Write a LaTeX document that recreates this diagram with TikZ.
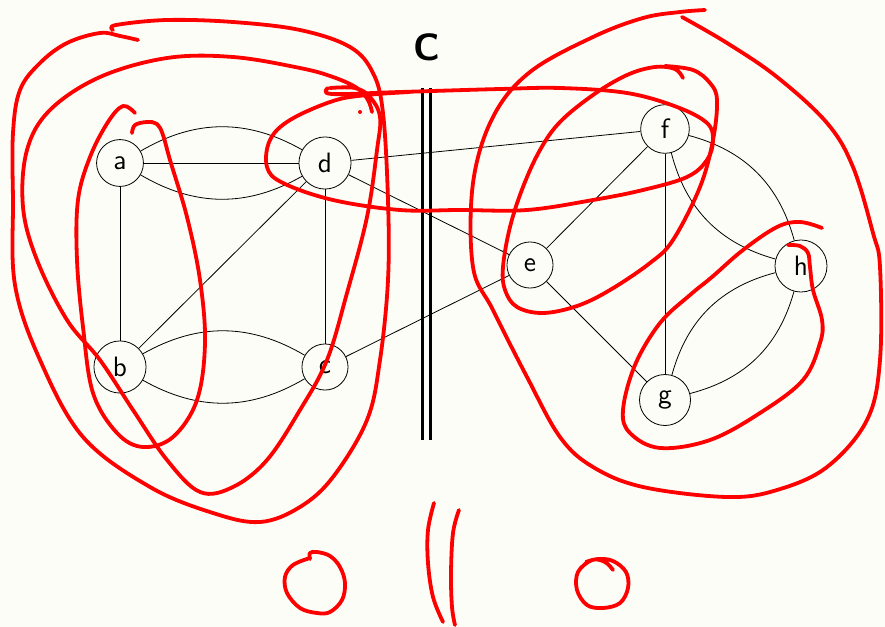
\documentclass[tikz,border=0pt]{standalone}
\definecolor{paper}{RGB}{253,253,247}
\definecolor{pen}{RGB}{255,0,0}
\tikzset{
  vertex/.style={draw, circle, inner sep=5pt, font=\sffamily\fontsize{14}{16}\selectfont},
  ink/.style={draw=pen, line width=1.9pt, line cap=round, line join=round},
}
\begin{document}
\begin{tikzpicture}[x=0.5pt, y=-0.5pt]
    % Canvas
    \fill[paper] (0,0) rectangle (885,627);
    \useasboundingbox (0,0) rectangle (885,627);

    % Nodes
    \node[vertex] (a) at (120,163) {a};
    \node[vertex] (d) at (325,163) {d};
    \node[vertex] (b) at (120,367) {b};
    \node[vertex] (c) at (325,367) {c};
    \node[vertex] (f) at (665,129) {f};
    \node[vertex] (e) at (530,265) {e};
    \node[vertex] (h) at (801,266) {h};
    \node[vertex] (g) at (665,400) {g};
    \node[font=\sffamily\bfseries\fontsize{19}{22}\selectfont] (cut) at (427,47) {C};

    % Edges
    \draw (a) -- (d);
    \draw (a) to[bend left=30] (d);
    \draw (a) to[bend right=30] (d);
    \draw (a) -- (b);
    \draw (b) -- (d);
    \draw (d) -- (c);
    \draw (b) to[bend left=30] (c);
    \draw (b) to[bend right=30] (c);
    \draw (d) -- (f);
    \draw (d) -- (e);
    \draw (c) -- (e);
    \draw (e) -- (f);
    \draw (e) -- (g);
    \draw (f) -- (g);
    \draw (f) to[bend left=30] (h);
    \draw (f) to[bend right=30] (h);
    \draw (g) to[bend left=30] (h);
    \draw (g) to[bend right=30] (h);

    % Cut
    \draw[line width=1.7pt] (422.7,88) -- (422.7,440);
    \draw[line width=1.7pt] (430.7,88) -- (430.7,440);

    % Annotations
    \draw[ink] plot[smooth, tension=0.6] coordinates {(113,30) (116,25) (167,20) (233,22) (300,30) (350,47) (373,73) (383,113) (388,200) (388,280) (380,360) (367,420) (333,477) (300,507) (260,522) (213,513) (150,487) (83,437) (40,360) (15,285) (13,200) (13,133) (20,90) (40,63) (67,43) (100,33) (120,36) (138,40)};
    \draw[ink] plot[smooth, tension=0.6] coordinates {(372,112) (368,100) (357,88) (333,77) (300,68) (233,57) (167,58) (100,77) (50,110) (27,150) (23,207) (37,260) (67,320) (100,360) (133,410) (167,460) (200,492) (233,487) (267,460) (300,410) (327,360) (347,293) (367,217) (377,150) (380,117) (370,97) (355,88) (330,88)};
    \fill[pen] (360,112) circle (2);
    \draw[ink] plot[smooth, tension=0.6] coordinates {(132,133) (135,125) (147,122) (157,124) (163,135) (170,160) (187,217) (200,280) (205,343) (197,400) (173,437) (143,447) (117,433) (93,393) (83,327) (77,260) (78,200) (90,157) (108,122) (123,106) (135,113)};
    \draw[ink] plot[smooth, tension=0.6] coordinates {(328,88) (332,94) (400,92) (500,89) (560,88) (627,93) (677,107) (707,123) (713,140) (707,160) (687,177) (643,190) (593,200) (527,210) (460,210) (400,210) (333,200) (283,183) (267,167) (270,140) (290,120) (333,101) (367,95) (410,92)};
    \draw[ink] plot[smooth, tension=0.6] coordinates {(705,10) (680,12) (643,18) (593,37) (530,72) (493,117) (473,183) (473,267) (493,310) (527,377) (560,437) (593,467) (643,487) (727,497) (777,490) (827,467) (867,420) (880,360) (880,267) (873,233) (853,167) (827,123) (777,77) (727,43) (682,17)};
    \draw[ink] plot[smooth, tension=0.6] coordinates {(683,78) (675,69) (655,67) (627,75) (593,95) (560,122) (540,150) (523,187) (510,227) (503,267) (505,290) (517,307) (543,313) (577,306) (610,290) (650,263) (673,240) (700,187) (713,140) (717,100) (710,83) (693,70) (665,66)};
    \draw[ink] plot[smooth, tension=0.6] coordinates {(822,228) (800,222) (777,227) (743,250) (712,277) (690,295) (660,323) (635,365) (623,410) (630,433) (660,448) (710,440) (760,413) (803,380) (820,343) (822,320) (813,290) (810,267) (808,253) (800,246) (788,245)};
    \draw[ink] plot[smooth, tension=0.6] coordinates {(434,503) (428,530) (428,563) (433,597) (443,622)};
    \draw[ink] plot[smooth, tension=0.6] coordinates {(459,510) (453,533) (451,573) (452,607) (455,625)};
    \draw[ink] plot[smooth, tension=0.6] coordinates {(310,559) (310,553) (317,552) (330,556) (340,567) (345,583) (342,600) (330,612) (317,613) (300,608) (287,593) (285,577) (293,565) (310,558)};
    \draw[ink] plot[smooth, tension=0.6] coordinates {(613,570) (605,562) (592,560) (578,572) (577,590) (587,605) (603,608) (620,603) (628,588) (626,572) (613,561) (598,559) (586,562)};
\end{tikzpicture}
\end{document}
